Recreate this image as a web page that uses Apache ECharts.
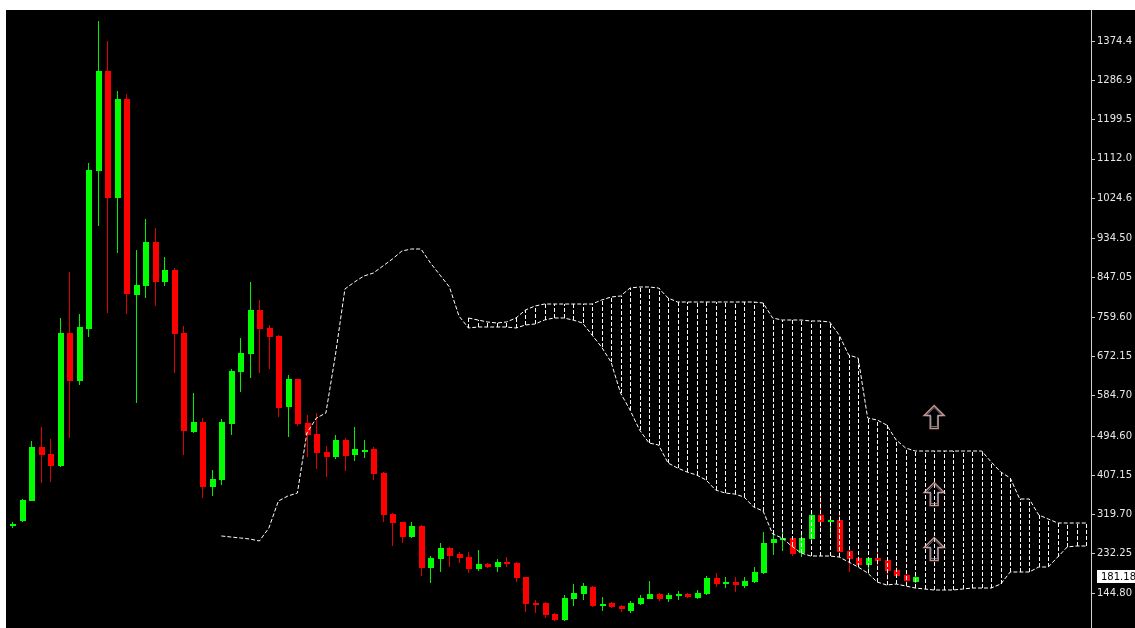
<!DOCTYPE html>
<html><head><meta charset="utf-8">
<script src="https://cdn.jsdelivr.net/npm/echarts@6/dist/echarts.min.js"></script>
<style>
html,body{margin:0;padding:0;background:#fff;width:1135px;height:628px;overflow:hidden}
#c{position:absolute;left:6px;top:10px;width:1129px;height:618px;}
</style></head>
<body><div id="c"></div>
<script>
// ---- data ----
const barCount = 114;
const categories = Array.from({length: barCount}, (_, i) => 'B' + i);

const openP = [297.4,305.2,350.4,469.3,454.4,427.7,723.3,617.0,733.5,1084.8,1307.6,1024.0,1244.5,808.6,829.3,927.3,838.2,864.3,723.3,504.1,
525.0,380.3,396.5,521.3,637.7,678.1,775.2,735.7,717.3,558.5,621.5,522.8,499.0,458.9,448.4,485.6,452.2,461.1,464.9,411.4,
320.7,302.3,270.2,294.7,199.7,220.5,244.4,231.0,225.7,198.3,209.4,202.0,213.8,210.9,179.7,123.6,121.8,97.3,84.6,131.4,
142.6,158.8,118.0,121.8,115.9,105.3,119.6,132.1,142.6,132.1,138.1,142.6,134.3,142.6,177.5,166.4,170.0,161.1,169.3,188.7,
255.5,262.8,267.9,233.2,265.0,317.8,302.9,307.4,238.4,223.4,207.2,223.4,218.3,196.0,184.9,170.0];
const closeP = [299.6,352.0,469.3,451.5,428.4,723.3,617.0,736.7,1087.0,1307.6,1024.0,1244.5,810.8,830.9,927.3,838.2,863.6,721.1,505.7,525.0,
380.3,398.1,525.0,640.0,680.0,775.2,732.9,714.4,557.6,621.5,521.3,496.7,457.3,448.4,485.6,450.6,465.4,464.2,409.2,318.5,
300.0,270.2,294.0,201.1,222.7,244.4,227.8,223.4,198.3,209.4,203.3,213.8,209.4,177.5,120.3,120.3,95.1,84.6,134.3,145.5,
161.1,115.9,120.9,113.0,108.4,121.8,134.3,142.6,132.1,139.7,142.6,135.2,145.5,177.5,164.2,169.3,162.6,172.2,190.9,256.8,
265.0,266.6,231.0,267.9,318.5,302.3,307.4,236.8,219.9,207.2,222.1,216.7,193.8,183.3,171.5,181.18];
const lowP = [289.6,302.9,349.0,390.5,392.8,425.5,489.4,608.8,715.7,962.3,767.8,901.5,765.6,567.4,802.6,784.7,829.3,635.5,452.2,501.9,
355.8,361.5,385.4,496.7,593.2,624.4,635.5,643.1,537.5,491.6,517.5,448.4,420.3,403.8,442.6,417.2,438.8,444.8,396.5,303.6,
249.4,256.8,268.0,183.3,167.7,190.9,202.0,212.2,188.7,193.8,201.1,190.9,203.3,170.0,103.0,99.6,89.1,82.4,82.4,116.6,
129.2,113.0,105.3,110.8,103.0,100.9,118.0,130.7,127.0,124.0,129.2,133.7,131.4,140.3,158.8,156.6,147.7,156.6,166.4,186.5,
229.4,239.0,227.9,225.7,262.8,281.3,274.0,233.2,192.2,203.3,197.6,196.0,173.8,177.5,170.0,166.4];
const highP = [303.0,354.3,482.7,515.2,487.8,756.7,860.5,765.6,1102.0,1419.6,1373.7,1263.0,1257.0,908.8,977.9,957.2,893.2,869.4,739.5,589.6,
534.0,418.8,531.7,643.1,712.1,836.9,797.4,741.8,719.5,629.7,622.1,541.3,546.4,472.2,496.7,490.7,515.2,485.6,470.7,414.3,
323.7,303.6,302.3,296.3,227.1,256.8,246.6,236.1,236.1,240.6,211.6,219.8,225.7,212.8,181.1,129.2,125.4,100.2,140.3,164.2,
166.4,161.1,135.2,124.0,117.0,127.0,140.3,171.5,143.7,145.5,149.3,145.5,151.5,182.6,188.7,179.7,179.7,181.1,203.3,280.0,
281.3,281.3,271.7,277.7,328.1,360.9,314.8,320.1,240.6,227.1,223.9,239.0,220.5,202.0,192.2,182.6];

// Senkou span lines (cloud edges), null where not drawn
const spanA = [].concat(new Array(22).fill(null), [
271.8,269.6,267.3,265.1,260.6,289.6,349.7,360.9,367.5,501.2,534.6,545.7,674.9,822.0,837.5,850.9,857.6,873.2,888.8,906.6,
911.1,911.1,879.9,853.1,826.4,761.8,
735.1,737.3,737.3,737.3,737.3,735.1,741.8,744.0,752.9,757.4,757.4,752.9,746.2,719.5,692.8,659.3,590.3,552.4,507.9,478.9,
474.5,434.4,423.2,414.3,407.6,396.5,374.2,367.5,365.3,358.6,336.4,327.4,276.3,267.3,249.5,233.9,227.2,227.2,227.2,225.0,
213.8,202.7,189.3,169.3,162.6,164.8,160.4,155.9,153.7,151.5,151.5,151.5,153.7,155.9,155.9,155.9,164.8,191.6,191.6,191.6,
202.7,202.7,225.0,247.3,249.5,249.5]);
const spanB = [].concat(new Array(48).fill(null), [
757.4,752.9,748.5,746.2,748.5,757.4,775.2,784.1,788.5,788.5,788.5,788.5,788.5,788.5,797.4,804.1,806.4,824.2,826.4,826.4,
824.2,801.9,793.0,793.0,793.0,793.0,793.0,793.0,793.0,793.0,793.0,790.8,757.4,752.9,752.9,752.9,750.7,750.7,748.5,719.5,
674.9,668.3,534.6,530.2,519.0,485.6,467.8,461.1,461.1,461.1,461.1,461.1,461.1,461.1,461.1,436.6,414.3,401.0,354.2,354.2,
318.5,309.6,300.7,300.7,300.7,300.7]);

const arrowBar = 97;
const arrowValues = [536.8, 365.3, 242.8];

const tickValues = [1374.4,1286.9,1199.5,1112.0,1024.6,934.50,847.05,759.60,672.15,584.70,494.60,407.15,319.70,232.25,144.80];
const tickLabels = ['1374.4','1286.9','1199.5','1112.0','1024.6','934.50','847.05','759.60','672.15','584.70','494.60','407.15','319.70','232.25','144.80'];
const lastPrice = 181.18;
const lastPriceText = '181.18';

// ---- chart ----
const yMin = 66.84, yMax = 1443.44;
const GRID = {left: 1.5, right: 40, top: 0, bottom: 0};
const candleData = openP.map((o, i) => [i, o, closeP[i], lowP[i], highP[i]]);
const hatchData = [];
for (let i = 0; i < barCount; i++) {
  if (spanA[i] != null && spanB[i] != null) hatchData.push([i, spanA[i], spanB[i]]);
}
const arrowData = arrowValues.map(v => [arrowBar, v]);

function labelFor(v) {
  let best = 0, d = Infinity;
  tickValues.forEach((t, k) => { const dd = Math.abs(t - v); if (dd < d) { d = dd; best = k; } });
  return tickLabels[best];
}
const FONT = 'DejaVu Sans';
const CLOUD = '#ffffff';
const DASH = [4, 2];
const UP = '#00ff00', DOWN = '#ff0000', UP_WICK = '#00f000', DOWN_WICK = '#e00000';
const ARROW = 'path://M10 0 L20 10 L14 10 L14 23 L6 23 L6 10 L0 10 Z';
const el = document.getElementById('c');
const chart = echarts.init(el, null, {renderer: 'canvas'});
chart.setOption({
  backgroundColor: '#000',
  animation: false,
  grid: GRID,
  xAxis: {type: 'category', data: categories, boundaryGap: true, show: false},
  yAxis: {
    type: 'value', position: 'right', min: yMin, max: yMax,
    axisLine: {show: true, lineStyle: {color: '#d0d0d0', width: 1}},
    axisTick: {show: true, length: 4, customValues: tickValues, lineStyle: {color: '#d0d0d0'}},
    axisLabel: {show: true, customValues: tickValues, formatter: labelFor, color: '#e8e8e8',
      fontFamily: FONT, fontSize: 10, margin: 6},
    splitLine: {show: false}
  },
  series: [
    {
      type: 'custom', z: 2, silent: true, data: candleData,
      encode: {x: 0, y: [1, 2, 3, 4]},
      renderItem: function (params, api) {
        const i = api.value(0), o = api.value(1), c = api.value(2), l = api.value(3), h = api.value(4);
        const pO = api.coord([i, o]), pC = api.coord([i, c]), pL = api.coord([i, l]), pH = api.coord([i, h]);
        const cx = Math.round(pO[0]);
        const up = c >= o;
        const top = Math.round(Math.min(pO[1], pC[1]));
        const bot = Math.round(Math.max(pO[1], pC[1]));
        return {type: 'group', children: [
          {type: 'line', shape: {x1: cx + 0.5, y1: Math.round(pH[1]), x2: cx + 0.5, y2: Math.round(pL[1])},
            style: {stroke: up ? UP_WICK : DOWN_WICK, lineWidth: 1}},
          {type: 'rect', shape: {x: cx - 2, y: top, width: 6, height: Math.max(2, bot - top)},
            style: {fill: up ? UP : DOWN}}
        ]};
      }
    },
    {
      type: 'custom', z: 3, silent: true, data: hatchData,
      renderItem: function (params, api) {
        const p1 = api.coord([api.value(0), api.value(1)]);
        const p2 = api.coord([api.value(0), api.value(2)]);
        const x = Math.round(p1[0]) + 0.5;
        return {type: 'line', shape: {x1: x, y1: p1[1], x2: x, y2: p2[1]},
          style: {stroke: CLOUD, lineWidth: 1, lineDash: DASH}};
      }
    },
    {
      type: 'line', data: spanA, z: 4, showSymbol: false, connectNulls: false, silent: true,
      lineStyle: {color: CLOUD, width: 1, type: DASH}
    },
    {
      type: 'line', data: spanB, z: 4, showSymbol: false, connectNulls: false, silent: true,
      lineStyle: {color: CLOUD, width: 1, type: DASH}
    },
    {
      type: 'scatter', data: arrowData, z: 5, silent: true,
      symbol: ARROW, symbolSize: [20, 23],
      itemStyle: {color: 'rgba(0,0,0,0)', borderColor: '#f6b4a8', borderWidth: 1.5}
    },
    {
      type: 'scatter', data: arrowData, z: 6, silent: true,
      symbol: ARROW, symbolSize: [16, 19],
      itemStyle: {color: 'rgba(0,0,0,0)', borderColor: '#a4b0dc', borderWidth: 0.8}
    }
  ]
});

// current price tag on the price scale, placed through the y scale
const py = chart.convertToPixel({yAxisIndex: 0}, lastPrice);
const axisX = el.clientWidth - GRID.right;
chart.setOption({
  graphic: [{
    type: 'group', left: axisX + 2, top: Math.round(py) - 7, z: 100,
    children: [
      {type: 'rect', shape: {x: 0, y: 0, width: 40, height: 13}, style: {fill: '#ffffff'}},
      {type: 'text', x: 4, y: 7, style: {text: lastPriceText, fill: '#000', font: '10px "DejaVu Sans"', textVerticalAlign: 'middle'}}
    ]
  }]
});
</script>
</body></html>
